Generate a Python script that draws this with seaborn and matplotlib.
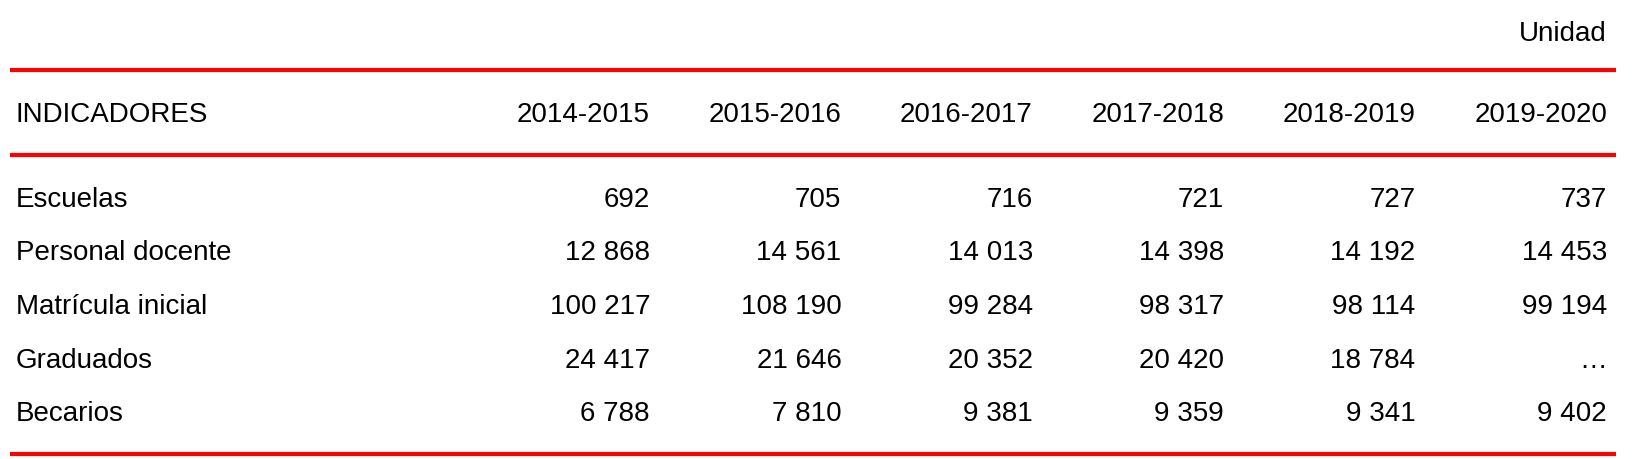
import matplotlib
matplotlib.use("Agg")
import matplotlib.pyplot as plt
import seaborn as sns

# ---- data ----
periods = ["2014-2015", "2015-2016", "2016-2017", "2017-2018", "2018-2019", "2019-2020"]
indicators = ["Escuelas", "Personal docente", "Matrícula inicial", "Graduados", "Becarios"]
escuelas = [692, 705, 716, 721, 727, 737]
personal_docente = [12868, 14561, 14013, 14398, 14192, 14453]
matricula_inicial = [100217, 108190, 99284, 98317, 98114, 99194]
graduados = [24417, 21646, 20352, 20420, 18784, None]
becarios = [6788, 7810, 9381, 9359, 9341, 9402]
header_label = "INDICADORES"
unit_label = "Unidad"

rows = [escuelas, personal_docente, matricula_inicial, graduados, becarios]


def fmt(v):
    if v is None:
        return "…"
    return f"{v:,}".replace(",", " ")


sns.set_theme(style="white")
plt.rcParams["font.family"] = ["Liberation Sans", "DejaVu Sans"]

W, H = 1651, 459
fig = plt.figure(figsize=(W / 100, H / 100), dpi=100)
ax = fig.add_axes([0, 0, 1, 1])
ax.set_xlim(0, W)
ax.set_ylim(H, 0)
ax.axis("off")

red = "#FF0000"
fs = 20
line_x0, line_x1 = 10, 1616
for y in (70, 155, 454):
    ax.plot([line_x0, line_x1], [y, y], color=red, lw=3.0, solid_capstyle="butt")

col_right = [650 + i * 191.4 for i in range(len(periods))]
left_x = 16

ax.text(1607, 41, unit_label, ha="right", va="baseline", fontsize=fs, color="black")
ax.text(left_x, 122, header_label, ha="left", va="baseline", fontsize=fs, color="black")
for x, p in zip(col_right, periods):
    ax.text(x, 122, p, ha="right", va="baseline", fontsize=fs, color="black")

row_base = [207 + i * 53.5 for i in range(len(indicators))]
for y, name, vals in zip(row_base, indicators, rows):
    ax.text(left_x, y, name, ha="left", va="baseline", fontsize=fs, color="black")
    for x, v in zip(col_right, vals):
        ax.text(x, y, fmt(v), ha="right", va="baseline", fontsize=fs, color="black")

fig.savefig("out.png", dpi=100, facecolor="white")
